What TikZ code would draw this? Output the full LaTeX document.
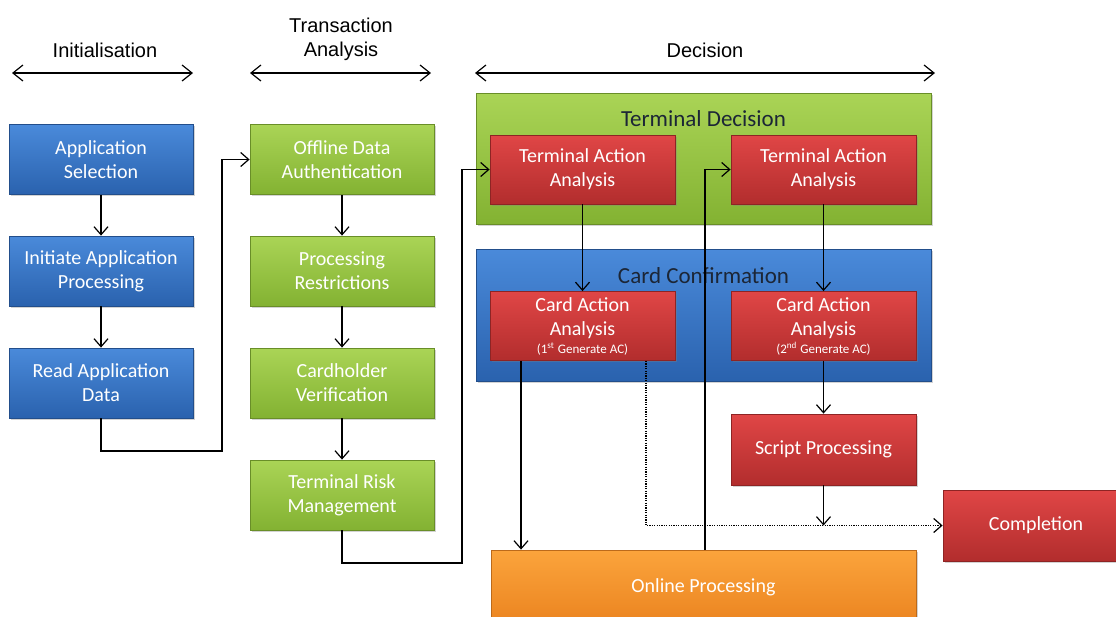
\documentclass[tikz,border=0pt]{standalone}
\usepackage{fontspec}
\setmainfont{Carlito}
\newfontfamily\hdrfont{Liberation Sans}
\usetikzlibrary{arrows.meta, shadows}

\definecolor{bluetop}{HTML}{4A8ADA}
\definecolor{bluebot}{HTML}{2A62AE}
\definecolor{greentop}{HTML}{AAD456}
\definecolor{greenbot}{HTML}{83B232}
\definecolor{redtop}{HTML}{E04646}
\definecolor{redbot}{HTML}{B22D2D}
\definecolor{orangetop}{HTML}{FBA43C}
\definecolor{orangebot}{HTML}{EB8420}
\definecolor{titletext}{HTML}{1C2636}

\begin{document}
\begin{tikzpicture}[x=0.5pt, y=-0.5pt,
		box/.style = {rectangle, draw=#1bot!80!black, line width=0.4pt, top color=#1top, bottom color=#1bot,
			text=white, align=center, font=\fontsize{10}{12}\selectfont, inner sep=0pt,
			drop shadow={shadow xshift=0.8pt, shadow yshift=-0.8pt, opacity=0.35}},
		panel/.style = {rectangle, draw=#1bot!80!black, line width=0.4pt, top color=#1top, bottom color=#1bot,
			drop shadow={shadow xshift=1pt, shadow yshift=-1pt, opacity=0.35}},
		flow/.style = {-{Straight Barb[length=4pt, width=7pt]}, line width=0.6pt},
		hdr/.style = {{Straight Barb[length=5pt, width=8pt]}-{Straight Barb[length=5pt, width=8pt]}, line width=0.6pt},
		hdrtext/.style = {font=\hdrfont\fontsize{10}{12}\selectfont, align=center}]
	\useasboundingbox (0,0) rectangle (1116,617);
	
	% headings
	\node[hdrtext] (hInit) at (105,50) {Initialisation};
	\node[hdrtext] (hTrans) at (341,39) {Transaction\\Analysis};
	\node[hdrtext] (hDec) at (705,50) {Decision};
	\coordinate (iL) at (12,73);   \coordinate (iR) at (193,73);
	\coordinate (tL) at (250,73);  \coordinate (tR) at (431,73);
	\coordinate (dL) at (475,73);  \coordinate (dR) at (935,73);
	\draw[hdr] (iL) -- (iR);
	\draw[hdr] (tL) -- (tR);
	\draw[hdr] (dL) -- (dR);
	
	% initialisation
	\node[box=blue, minimum width=92pt, minimum height=35pt] (AppSel) at (101,159.5) {Application\\Selection};
	\node[box=blue, minimum width=92pt, minimum height=35pt] (InitApp) at (101,271) {Initiate Application\\Processing};
	\node[box=blue, minimum width=92pt, minimum height=35pt] (ReadApp) at (101,383) {Read Application\\Data};
	
	% transaction analysis
	\node[box=green, minimum width=92pt, minimum height=35pt] (Offline) at (342,159.5) {Offline Data\\Authentication};
	\node[box=green, minimum width=92pt, minimum height=35pt] (ProcRes) at (342,271) {Processing\\Restrictions};
	\node[box=green, minimum width=92pt, minimum height=35pt] (CardVer) at (342,383) {Cardholder\\Verification};
	\node[box=green, minimum width=92pt, minimum height=35pt] (RiskMan) at (342,495) {Terminal Risk\\Management};
	
	% decision
	\node[panel=green, minimum width=227.5pt, minimum height=65.5pt] (TermDec) at (703.5,158.5) {};
	\node[font=\fontsize{11.5}{13}\selectfont, text=titletext] (TermDecT) at (703.5,119) {Terminal Decision};
	\node[panel=blue, minimum width=227.5pt, minimum height=66pt] (CardConf) at (703.5,315) {};
	\node[font=\fontsize{11.5}{13}\selectfont, text=titletext] (CardConfT) at (703.5,276) {Card Confirmation};
	
	\node[box=red, minimum width=92.5pt, minimum height=34.5pt] (TAA1) at (582.5,169.5) {Terminal Action\\Analysis};
	\node[box=red, minimum width=92.5pt, minimum height=34.5pt] (TAA2) at (823.5,169.5) {Terminal Action\\Analysis};
	\node[box=red, minimum width=92.5pt, minimum height=34.5pt] (CAA1) at (582.5,326) {Card Action\\Analysis\\[-3pt]{\fontsize{6.5}{7.5}\selectfont (1\textsuperscript{st} Generate AC)}};
	\node[box=red, minimum width=92.5pt, minimum height=34.5pt] (CAA2) at (823.5,326) {Card Action\\Analysis\\[-3pt]{\fontsize{6.5}{7.5}\selectfont (2\textsuperscript{nd} Generate AC)}};
	\node[box=red, minimum width=92.5pt, minimum height=35.5pt] (Script) at (823.5,449.5) {Script Processing};
	\node[box=red, minimum width=93pt, minimum height=35.5pt] (Compl) at (1036,525.5) {Completion};
	\node[box=orange, minimum width=212.5pt, minimum height=37pt] (Online) at (703.5,587) {Online Processing};
	
	% connectors
	\draw[flow] (AppSel) -- (InitApp);
	\draw[flow] (InitApp) -- (ReadApp);
	\draw[flow] (Offline) -- (ProcRes);
	\draw[flow] (ProcRes) -- (CardVer);
	\draw[flow] (CardVer) -- (RiskMan);
	
	\coordinate (k1) at (222,451);
	\draw[flow] (ReadApp.south) |- (k1) |- (Offline.west);
	\coordinate (k2) at (462,563);
	\draw[flow] (RiskMan.south) |- (k2) |- (TAA1.west);
	
	\draw[flow] (TAA1) -- (CAA1);
	\draw[flow] (TAA2) -- (CAA2);
	\draw[flow] (CAA2) -- (Script);
	
	\coordinate (k3) at (521,400);
	\draw[flow] (CAA1.south -| k3) -- (Online.north -| k3);
	\coordinate (k4) at (705,400);
	\draw[flow] (Online.north -| k4) |- (TAA2.west);
	\coordinate (k5) at (646,400);
	\draw[flow, dash pattern=on 0.6pt off 0.6pt] (CAA1.south -| k5) |- (Compl.west);
	\draw[flow] (Script.south) -- (Script.south |- Compl.west);
\end{tikzpicture}
\end{document}
